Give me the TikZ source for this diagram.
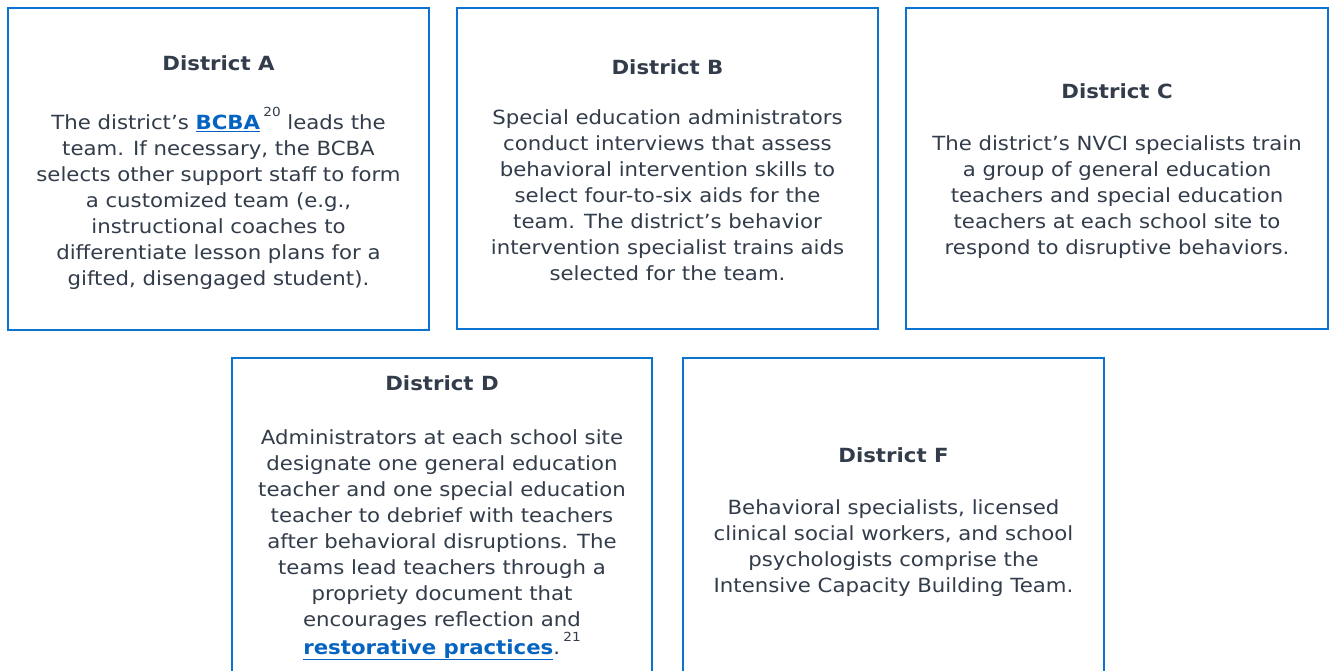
\documentclass[tikz,border=0pt]{standalone}
\usepackage{fontspec}
\setmainfont{DejaVu Sans}[FakeStretch=1.09]
\definecolor{frameblue}{HTML}{0B74D2}
\definecolor{linkblue}{HTML}{0563C1}
\definecolor{bodytext}{HTML}{323C4A}
\newcommand{\lnk}[1]{\textcolor{linkblue}{\underline{\textbf{#1}}}}
\newcommand{\fnote}[1]{\,\raisebox{13pt}{\fontsize{12.5}{12.5}\selectfont #1}}
\begin{document}
\begin{tikzpicture}[x=1pt,y=-1pt,
  panel/.style={draw=frameblue, line width=2.7pt, rectangle, inner sep=0pt, outer sep=0pt, anchor=north west},
  body/.style={align=center, text=bodytext, inner sep=0pt, font=\fontsize{19.5}{26}\selectfont}]
\clip (0,0) rectangle (1332,671);
\fill[white] (0,0) rectangle (1332,671);

% top row of panels
\node[panel, minimum width=421pt, minimum height=322pt] (boxA) at (8,8) {};
\node[panel, minimum width=421pt, minimum height=321pt] (boxB) at (457,8) {};
\node[panel, minimum width=422pt, minimum height=321pt] (boxC) at (906,8) {};
% bottom row of panels, running past the lower edge
\node[panel, minimum width=420pt, minimum height=340pt] (boxD) at (232,358) {};
\node[panel, minimum width=421pt, minimum height=340pt] (boxF) at (683,358) {};

\node[body] (txtA) at (218.5,173) {\textbf{District A}\\[33pt]
The district’s \lnk{BCBA}\fnote{20} leads the\\
team. If necessary, the BCBA\\
selects other support staff to form\\
a customized team (e.g.,\\
instructional coaches to\\
differentiate lesson plans for a\\
gifted, disengaged student).};

\node[body] (txtB) at (667.5,170) {\textbf{District B}\\[24pt]
Special education administrators\\
conduct interviews that assess\\
behavioral intervention skills to\\
select four-to-six aids for the\\
team. The district’s behavior\\
intervention specialist trains aids\\
selected for the team.};

\node[body] (txtC) at (1117,171) {\textbf{District C}\\[26pt]
The district’s NVCI specialists train\\
a group of general education\\
teachers and special education\\
teachers at each school site to\\
respond to disruptive behaviors.};

\node[body] (txtD) at (442,518) {\textbf{District D}\\[28pt]
Administrators at each school site\\
designate one general education\\
teacher and one special education\\
teacher to debrief with teachers\\
after behavioral disruptions. The\\
teams lead teachers through a\\
propriety document that\\
encourages reflection and\\
\lnk{restorative practices}.\fnote{21}};

\node[body] (txtF) at (893.5,522) {\textbf{District F}\\[26pt]
Behavioral specialists, licensed\\
clinical social workers, and school\\
psychologists comprise the\\
Intensive Capacity Building Team.};
\end{tikzpicture}
\end{document}
